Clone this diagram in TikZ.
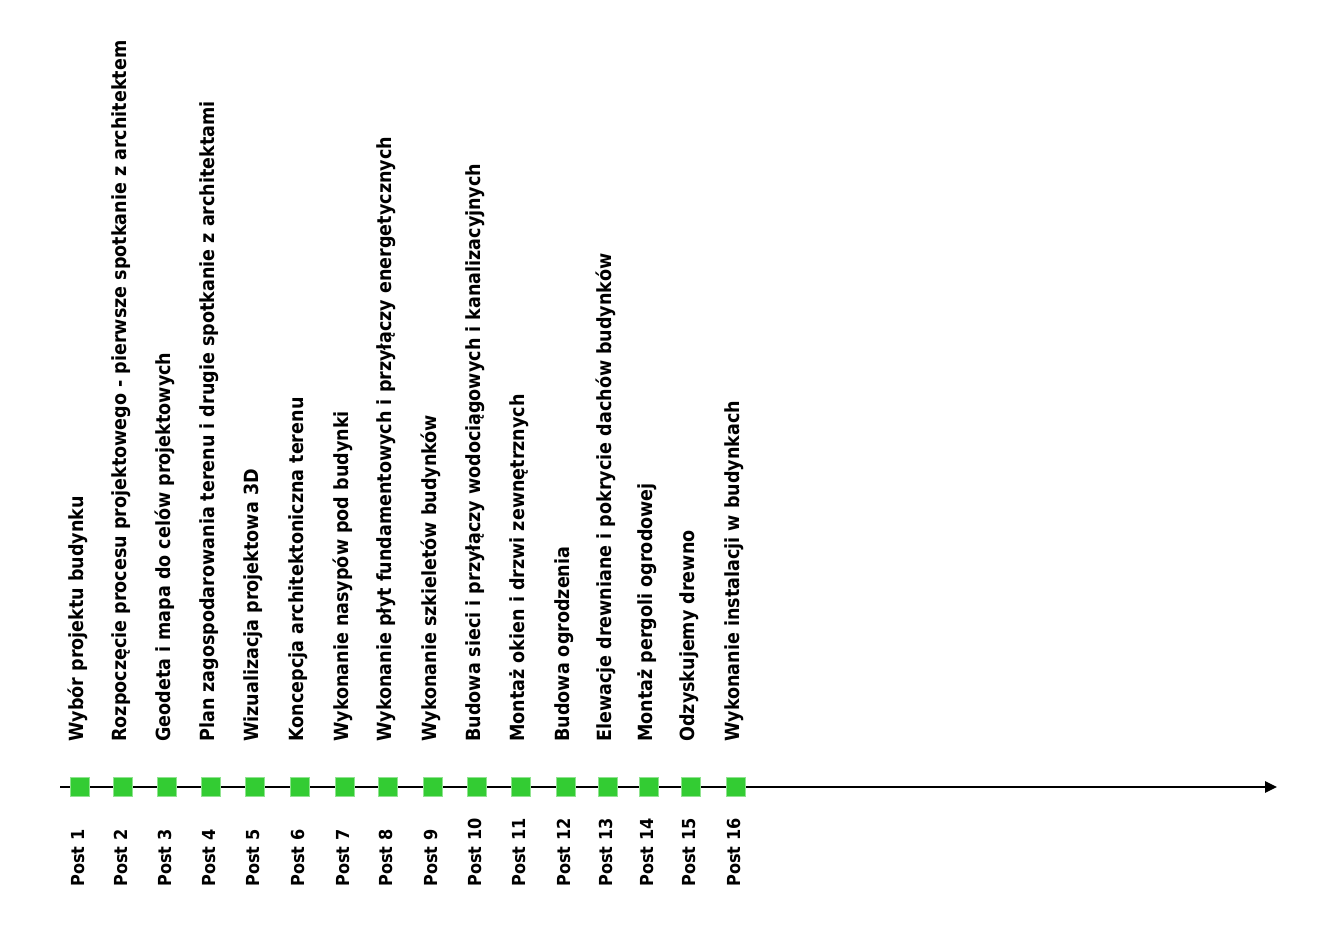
\documentclass[tikz,border=0pt]{standalone}
\usepackage{fontspec}
\setmainfont{DejaVu Sans Condensed}
\usetikzlibrary{arrows.meta}
\definecolor{stepgreen}{HTML}{33CC33}
\tikzset{
  milestone/.style={fill=stepgreen,draw=stepgreen!55!white,line width=0.5pt,minimum size=0.37cm,inner sep=0pt},
  tasklabel/.style={rotate=90,anchor=west,inner sep=0pt,font=\bfseries\fontsize{11.1}{13}\selectfont},
  postlabel/.style={tasklabel,font=\bfseries\fontsize{10.2}{12}\selectfont},
}
\begin{document}
\begin{tikzpicture}[x=0.02cm,y=0.02cm]
  \useasboundingbox (0,0) rectangle (1338,924);
  \coordinate (axstart) at (60,137);
  \coordinate (axend) at (1277,137);
  \draw[line width=1.4pt,-{Triangle[length=2.4mm,width=2.2mm]}] (axstart) -- (axend);
  \foreach \x/\txt [count=\i] in {
      80/{Wybór projektu budynku},
      123/{Rozpoczęcie procesu projektowego - pierwsze spotkanie z architektem},
      167/{Geodeta i mapa do celów projektowych},
      211/{Plan zagospodarowania terenu i drugie spotkanie z architektami},
      255/{Wizualizacja projektowa 3D},
      300/{Koncepcja architektoniczna terenu},
      345/{Wykonanie nasypów pod budynki},
      388/{Wykonanie płyt fundamentowych i przyłączy energetycznych},
      433/{Wykonanie szkieletów budynków},
      477/{Budowa sieci i przyłączy wodociągowych i kanalizacyjnych},
      521/{Montaż okien i drzwi zewnętrznych},
      566/{Budowa ogrodzenia},
      608/{Elewacje drewniane i pokrycie dachów budynków},
      649/{Montaż pergoli ogrodowej},
      691/{Odzyskujemy drewno},
      736/{Wykonanie instalacji w budynkach}}{
    \node[milestone] (sq\i) at (\x,137) {};
    \node[tasklabel] (task\i) at (\x-2,182) {\txt};
    \node[postlabel] (post\i) at (\x-2,37) {Post \i};
  }
\end{tikzpicture}
\end{document}
